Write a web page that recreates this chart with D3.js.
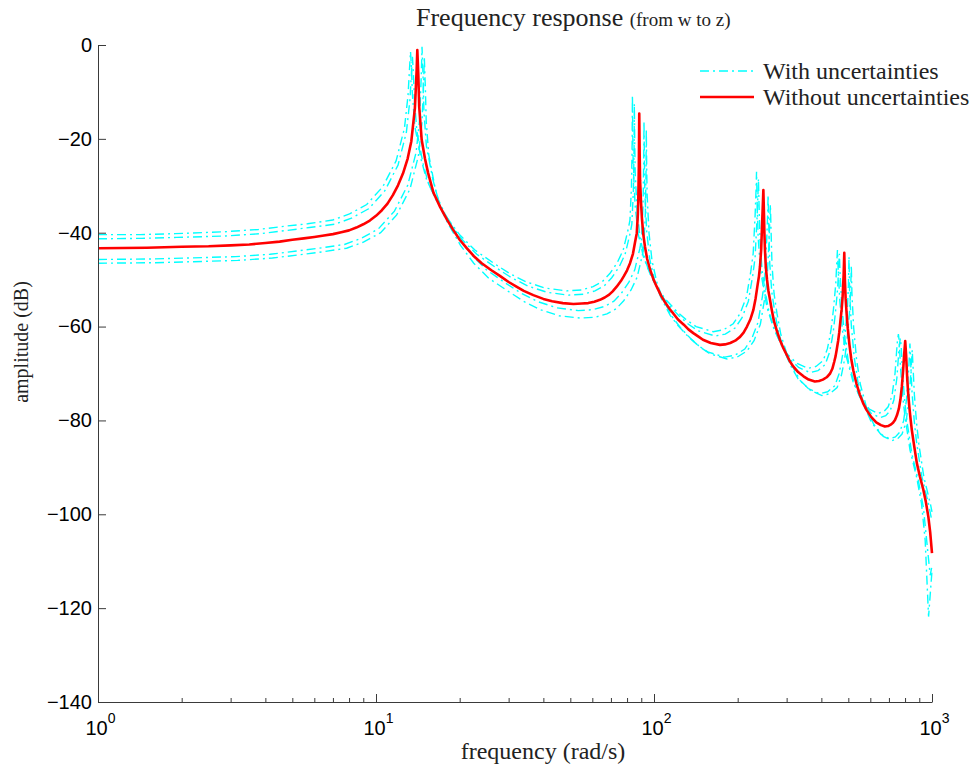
<!DOCTYPE html>
<html>
<head>
<meta charset="utf-8">
<script src="https://cdn.jsdelivr.net/npm/d3@7"></script>
<style>
  html, body { margin: 0; padding: 0; background: #fff; }
  svg { display: block; }
</style>
</head>
<body>
<svg id="chart" width="972" height="770"></svg>
<script>
// ---------- data (frequency in rad/s, amplitude in dB) ----------
const xTickValues = [1, 10, 100, 1000];
const xTickExponents = ["0", "1", "2", "3"];
const yTickValues = [0, -20, -40, -60, -80, -100, -120, -140];

const nominal = [[1,-43.3],[1.5,-43.2],[2,-43.0],[2.5,-42.9],[3,-42.7],[3.5,-42.5],[4,-42.2],[4.5,-41.9],[5,-41.5],[5.5,-41.2],[6,-40.9],[6.5,-40.6],[7,-40.3],[7.5,-39.9],[8,-39.5],[8.5,-38.9],[9,-38.2],[9.5,-37.4],[10,-36.4],[10.5,-35.2],[11,-33.8],[11.5,-32.0],[12,-29.9],[12.5,-27.4],[13,-24.2],[13.4,-20.5],[13.8,-13.5],[14.0,-5.5],[14.08,-1.1],[14.2,-6.5],[14.3,-13.1],[14.6,-20.2],[15.0,-24.2],[15.4,-27.3],[16.1,-31.5],[17.0,-34.5],[18,-37.2],[19,-39.5],[20,-41.5],[21.2,-43.3],[22.5,-45.0],[24,-46.5],[26,-48.0],[27.9,-49.2],[30,-50.5],[32,-51.5],[34,-52.4],[36.8,-53.3],[40,-54.1],[43,-54.6],[47,-55.0],[51.3,-55.2],[55,-55.1],[58,-55.0],[61,-54.7],[63.9,-54.3],[66.5,-53.8],[69,-53.2],[71,-52.5],[73.4,-51.5],[76,-50.3],[78,-49.2],[80,-48.0],[82,-46.5],[84,-44.5],[85.5,-42.0],[86.7,-40.1],[87.5,-36.0],[87.8,-33.0],[88.2,-26.0],[88.5,-14.6],[88.8,-23.0],[89.1,-28.8],[89.8,-33.5],[90.5,-37.0],[91.5,-40.3],[92.8,-43.0],[94.5,-45.6],[97,-48.0],[99.5,-49.9],[102.3,-51.5],[106,-53.4],[110,-55.0],[114,-56.3],[117.3,-57.2],[122,-58.5],[128,-59.6],[133,-60.6],[138.5,-61.4],[145,-62.2],[150,-62.8],[160,-63.5],[172.7,-63.9],[180,-63.8],[188,-63.5],[196,-63.0],[203.9,-62.2],[210,-61.3],[216,-60.0],[222,-58.5],[227.6,-56.5],[232,-54.0],[236,-51.0],[238.5,-49.3],[240.6,-47.2],[243,-43.5],[244.5,-39.0],[246.5,-33.5],[247.4,-30.9],[248.5,-35.5],[249.5,-40.0],[250.7,-43.7],[252.5,-47.3],[255,-50.0],[258,-52.4],[261.4,-54.3],[265,-56.3],[270,-58.8],[277,-61.0],[284,-62.9],[292,-64.6],[300,-66.0],[308,-67.4],[316.8,-68.5],[330,-69.7],[345,-70.6],[360,-71.3],[379,-71.7],[392,-71.6],[405,-71.3],[418,-70.8],[430,-70.0],[438,-69.0],[445,-67.5],[450,-66.3],[454,-65.0],[460,-62.9],[464,-61.2],[468,-59.0],[473,-56.4],[477,-53.6],[481,-49.0],[483.6,-44.3],[486,-50.0],[489,-54.0],[493,-57.2],[498,-60.5],[505,-64.0],[512,-66.8],[521,-69.3],[535,-72.2],[550,-74.5],[565,-76.3],[582,-77.8],[605,-79.3],[630,-80.4],[655,-81.0],[677,-81.3],[695,-81.2],[710,-80.9],[724,-80.5],[736,-79.9],[748,-78.9],[760,-77.5],[770,-75.5],[779,-72.8],[787,-69.5],[793,-66.4],[801,-63.1],[807,-66.0],[811,-68.8],[815,-71.4],[822,-74.7],[830,-77.5],[838,-79.9],[846,-82.0],[864,-85.7],[882,-89.1],[905,-92.0],[931,-94.8],[950,-97.3],[970,-100.5],[985,-103.8],[1000,-108.3]];

const perturbedA = [[1,-40.4],[1.42,-40.4],[1.89,-40.2],[2.84,-39.8],[3.78,-39.3],[4.73,-38.6],[5.67,-38.1],[6.99,-37.3],[8.03,-36.0],[9.26,-34.0],[10.58,-30.2],[11.81,-24.7],[12.66,-17.7],[13.04,-10.7],[13.23,-4],[13.31,-1.4],[13.42,-5],[13.51,-10.3],[13.8,-17.4],[14.55,-24.5],[15.21,-28.7],[16.07,-31.7],[17.96,-36.7],[20.03,-40.5],[22.68,-43.7],[26.37,-46.4],[30.24,-48.7],[34.78,-50.5],[40.64,-51.8],[48.48,-52.4],[54.81,-52.2],[60.39,-51.5],[65.2,-50.4],[69.36,-48.7],[73.71,-46.4],[77.49,-43.7],[80.8,-39.2],[81.93,-37.3],[82.97,-30.2],[83.44,-21],[83.63,-10.7],[83.92,-20],[84.2,-26],[85.52,-34.2],[87.7,-40.2],[91.67,-45.2],[96.67,-48.7],[103.95,-52.2],[110.85,-54.4],[120.96,-56.8],[130.88,-58.6],[141.75,-60.0],[163.2,-61.1],[177.7,-60.7],[192.7,-59.4],[204.1,-57.2],[215.1,-53.7],[223,-48.2],[227.4,-44.4],[231.1,-36.2],[232.9,-30.7],[233.8,-27.0],[234.8,-32.7],[236.9,-40.9],[241,-47.2],[247,-51.5],[255.2,-56.0],[268.4,-60.1],[283.5,-63.2],[299.4,-65.7],[326,-67.8],[358.2,-68.9],[382.7,-68.5],[406.4,-67.2],[420.5,-64.7],[429,-62.2],[434.7,-60.1],[442.3,-56.2],[450.8,-50.8],[454.5,-46.2],[457,-43.7],[459.3,-47.2],[465.9,-54.4],[477.2,-61.2],[492.3,-66.5],[519.8,-71.7],[550,-75.0],[595.4,-77.6],[639.8,-78.5],[671,-78.1],[695.5,-77.1],[718.2,-74.7],[736.2,-70.0],[749.4,-63.6],[757,-61.6],[762.6,-63.2],[770.2,-68.6],[784.4,-74.7],[799.5,-79.2],[833.5,-86.3],[879.8,-92.0],[916.7,-97.7],[945,-105.5],[972,-121.8],[1000,-112]];

const perturbedB = [[1,-41.3],[1.44,-41.2],[1.92,-41.0],[2.88,-40.7],[3.84,-40.2],[4.8,-39.5],[5.76,-38.9],[7.1,-38.2],[8.16,-36.9],[9.41,-34.9],[10.75,-31.1],[12.0,-25.6],[12.86,-18.6],[13.25,-11.6],[13.44,-5],[13.52,-2.5],[13.63,-6],[13.73,-11.2],[14.02,-18.3],[14.78,-25.4],[15.46,-29.6],[16.32,-32.6],[18.24,-37.6],[20.35,-41.4],[23.04,-44.6],[26.78,-47.3],[30.72,-49.6],[35.33,-51.4],[41.28,-52.7],[49.25,-53.3],[55.68,-53.1],[61.34,-52.4],[66.24,-51.3],[70.46,-49.6],[74.88,-47.3],[78.72,-44.6],[82.08,-40.1],[83.23,-38.2],[84.29,-31.1],[84.77,-22],[84.96,-12.5],[85.25,-21],[85.54,-27],[86.88,-35.1],[89.09,-41.1],[93.12,-46.1],[98.21,-49.6],[105.6,-53.1],[112.6,-55.3],[122.9,-57.7],[133,-59.5],[144,-60.9],[165.8,-62.0],[180.5,-61.6],[195.7,-60.3],[207.4,-58.1],[218.5,-54.6],[226.6,-49.1],[231,-45.3],[234.7,-37.1],[236.6,-31.6],[237.5,-28.5],[238.6,-33.6],[240.7,-41.8],[244.8,-48.1],[250.9,-52.4],[259.2,-56.9],[272.6,-61.0],[288,-64.1],[304.1,-66.6],[331.2,-68.7],[363.8,-69.8],[388.8,-69.4],[412.8,-68.1],[427.2,-65.6],[435.8,-63.1],[441.6,-61.0],[449.3,-57.1],[457.9,-51.7],[461.8,-47.1],[464.3,-44.5],[466.6,-48.1],[473.3,-55.3],[484.8,-62.1],[500.2,-67.4],[528,-72.6],[558.7,-75.9],[604.8,-78.5],[649.9,-79.4],[681.6,-79.0],[706.6,-78.0],[729.6,-75.6],[747.8,-70.9],[761.3,-64.5],[769,-62.5],[774.7,-64.1],[782.4,-69.5],[796.8,-75.6],[812.2,-80.1],[846.7,-87.2],[893.8,-92.9],[931.2,-98.6],[960,-106.4],[985,-113],[1000,-111]];

const perturbedC = [[1,-45.7],[1.56,-45.6],[2.08,-45.4],[3.12,-45.1],[4.16,-44.6],[5.2,-43.9],[6.24,-43.3],[7.7,-42.5],[8.84,-41.2],[10.19,-39.2],[11.65,-35.4],[13.0,-29.9],[13.94,-22.9],[14.35,-15.9],[14.56,-6],[14.64,-0.4],[14.77,-7],[14.87,-14],[15.18,-21.5],[16.02,-28.7],[16.74,-32.9],[17.68,-35.9],[19.76,-40.9],[22.05,-44.7],[24.96,-47.9],[29.02,-50.6],[33.28,-52.9],[38.27,-54.7],[44.72,-56.0],[53.35,-56.6],[60.32,-56.4],[66.46,-55.7],[71.76,-54.6],[76.34,-52.9],[81.12,-50.6],[85.28,-47.9],[88.92,-43.4],[90.17,-41.5],[91.31,-34.4],[91.83,-25],[92.04,-16.3],[92.35,-24],[92.66,-31.4],[94.12,-39.6],[96.51,-45.6],[100.9,-50.6],[106.4,-54.1],[114.4,-57.6],[122,-59.8],[133.1,-62.2],[144,-64.0],[156,-65.4],[179.6,-66.5],[195.5,-66.1],[212.1,-64.8],[224.6,-62.6],[236.7,-59.1],[245.4,-53.6],[250.2,-49.8],[254.3,-41.6],[256.4,-36],[257.3,-32.0],[258.4,-37],[260.7,-46.3],[265.2,-52.6],[271.9,-56.9],[280.8,-61.4],[295.4,-65.5],[312,-68.6],[329.5,-71.1],[358.8,-73.2],[394.2,-74.3],[421.2,-73.9],[447.2,-72.6],[462.8,-70.1],[472.2,-67.6],[478.4,-65.5],[486.7,-61.6],[496.1,-56.2],[500.2,-51.6],[502.9,-45.1],[505.4,-52.6],[512.7,-59.8],[525.2,-66.6],[541.8,-71.9],[572,-77.1],[605.3,-80.4],[655.2,-83.0],[704.1,-83.9],[738.4,-83.5],[765.4,-82.5],[790.4,-80.1],[810.2,-75.4],[824.7,-69.0],[833,-63.6],[839.3,-68.6],[847.6,-74.0],[863.2,-80.1],[879.8,-84.6],[917.3,-91.7],[968.2,-97.4],[1000,-101.5]];

const perturbedD = [[1,-46.5],[1.59,-46.4],[2.12,-46.2],[3.18,-45.9],[4.24,-45.4],[5.3,-44.7],[6.36,-44.1],[7.84,-43.3],[9.01,-42.0],[10.39,-40.0],[11.87,-36.2],[13.25,-30.7],[14.2,-23.7],[14.63,-16.7],[14.84,-8],[14.92,-2.5],[15.05,-9],[15.16,-16.3],[15.48,-23.4],[16.32,-30.5],[17.07,-34.7],[18.02,-37.7],[20.14,-42.7],[22.47,-46.5],[25.44,-49.7],[29.57,-52.3],[33.92,-54.6],[39.0,-56.4],[45.58,-57.7],[54.38,-58.2],[61.48,-58.0],[67.73,-57.3],[73.14,-56.2],[77.8,-54.5],[82.68,-52.2],[86.92,-49.5],[90.63,-45.0],[91.9,-43.1],[93.07,-36.0],[93.6,-27],[93.81,-18.0],[94.13,-26],[94.45,-31.8],[95.93,-40.0],[98.37,-46.0],[102.8,-51.0],[108.4,-54.5],[116.6,-58.0],[124.3,-60.2],[135.7,-62.6],[146.8,-64.4],[159,-65.8],[183.1,-66.9],[199.3,-66.5],[216.1,-65.2],[229,-63.0],[241.3,-59.5],[250.2,-54.0],[255,-50.2],[259.2,-42.0],[261.3,-36.5],[262.2,-34.0],[263.4,-38.5],[265.7,-46.7],[270.3,-53.0],[277.1,-57.3],[286.2,-61.8],[301,-65.9],[318,-69.0],[335.8,-71.5],[365.7,-73.6],[401.7,-74.7],[429.3,-74.3],[455.8,-73.0],[471.7,-70.5],[481.2,-68.0],[487.6,-65.9],[496.1,-62.0],[505.6,-56.6],[509.9,-52.0],[512.6,-47.0],[515.2,-53.0],[522.6,-60.2],[535.3,-67.0],[552.3,-72.3],[583,-77.5],[616.9,-80.8],[667.8,-83.4],[717.6,-84.3],[752.6,-83.9],[780.2,-82.9],[805.6,-80.5],[825.7,-75.8],[840.6,-69.4],[849,-65.0],[855.4,-69.0],[863.9,-74.4],[879.8,-80.5],[896.8,-85.0],[934.9,-92.1],[986.9,-97.8],[1000,-99.5]];

const perturbedSeries = [perturbedA, perturbedB, perturbedC, perturbedD];
const legendLabels = ["With uncertainties", "Without uncertainties"];

// ---------- layout ----------
const svg = d3.select("#chart");
const x = d3.scaleLog().domain([1, 1000]).range([98, 932]);
const y = d3.scaleLinear().domain([-140, 0]).range([702, 45]);

const serif = "'Liberation Serif', 'Times New Roman', Times, serif";
const sans = "'Liberation Sans', Arial, Helvetica, sans-serif";
const axisColor = "#3a3a3a";
const cyan = "#00ffff";
const dashPattern = "9,4,2,4";

svg.append("defs").append("clipPath").attr("id", "plotclip")
  .append("rect").attr("x", 98).attr("y", 40).attr("width", 836).attr("height", 664);

const line = d3.line().x(d => x(d[0])).y(d => y(d[1]));
const plot = svg.append("g").attr("clip-path", "url(#plotclip)");

plot.selectAll("path.unc").data(perturbedSeries).join("path")
  .attr("class", "unc")
  .attr("d", line)
  .attr("fill", "none")
  .attr("stroke", cyan)
  .attr("stroke-width", 1.4)
  .attr("stroke-dasharray", dashPattern);

plot.append("path").datum(nominal)
  .attr("d", line)
  .attr("fill", "none")
  .attr("stroke", "#ff0000")
  .attr("stroke-width", 2.6)
  .attr("stroke-linejoin", "round");

// ---------- axes ----------
const yAxis = svg.append("g").attr("transform", `translate(${x(1)},0)`)
  .call(d3.axisLeft(y).tickValues(yTickValues).tickSizeInner(-8).tickSizeOuter(0).tickPadding(6)
    .tickFormat(d => d === 0 ? "0" : "\u2212" + Math.abs(d)));
yAxis.select(".domain").attr("stroke", axisColor);
yAxis.selectAll(".tick line").attr("stroke", axisColor);
yAxis.selectAll(".tick text").attr("font-family", sans).attr("font-size", 20).attr("fill", "#000");

// minor x ticks
const minorTicks = [];
[1, 10, 100].forEach(dec => { for (let k = 2; k <= 9; k++) minorTicks.push(dec * k); });
const xMinor = svg.append("g").attr("transform", `translate(0,${y(-140)})`)
  .call(d3.axisBottom(x).tickValues(minorTicks).tickSizeInner(-4).tickSizeOuter(0).tickFormat(""));
xMinor.select(".domain").remove();
xMinor.selectAll(".tick line").attr("stroke", axisColor);

const xAxis = svg.append("g").attr("transform", `translate(0,${y(-140)})`)
  .call(d3.axisBottom(x).tickValues(xTickValues).tickSizeInner(-8).tickSizeOuter(0).tickFormat(""));
xAxis.select(".domain").attr("stroke", axisColor);
xAxis.selectAll(".tick line").attr("stroke", axisColor);
xAxis.selectAll(".tick").each(function(d, i) {
  const t = d3.select(this).append("text")
    .attr("x", -13).attr("y", 33)
    .attr("fill", "#000").attr("font-family", sans).attr("font-size", 20)
    .attr("text-anchor", "start");
  t.append("tspan").text("10");
  t.append("tspan").attr("dy", -12).attr("font-size", 14).text(xTickExponents[i]);
});

// ---------- titles ----------
const title = svg.append("text").attr("x", 416).attr("y", 26)
  .attr("font-family", serif).attr("font-size", 26).attr("fill", "#222");
title.append("tspan").text("Frequency response ");
title.append("tspan").attr("font-size", 19).text("(from w to z)");

svg.append("text").attr("x", 543).attr("y", 759)
  .attr("text-anchor", "middle").attr("font-family", serif).attr("font-size", 24).attr("fill", "#222")
  .text("frequency (rad/s)");

svg.append("text").attr("transform", "translate(28,342) rotate(-90)")
  .attr("text-anchor", "middle").attr("font-family", serif).attr("font-size", 20).attr("fill", "#222")
  .text("amplitude (dB)");

// ---------- legend ----------
const legend = svg.append("g");
const legendRows = [
  { label: legendLabels[0], color: cyan, width: 1.4, dash: dashPattern, y: 71 },
  { label: legendLabels[1], color: "#ff0000", width: 2.6, dash: null, y: 97 }
];
legendRows.forEach(r => {
  legend.append("line").attr("x1", 700).attr("x2", 754).attr("y1", r.y).attr("y2", r.y)
    .attr("stroke", r.color).attr("stroke-width", r.width)
    .attr("stroke-dasharray", r.dash);
  legend.append("text").attr("x", 763).attr("y", r.y + 8)
    .attr("font-family", serif).attr("font-size", 24).attr("fill", "#222").text(r.label);
});
</script>
</body>
</html>
